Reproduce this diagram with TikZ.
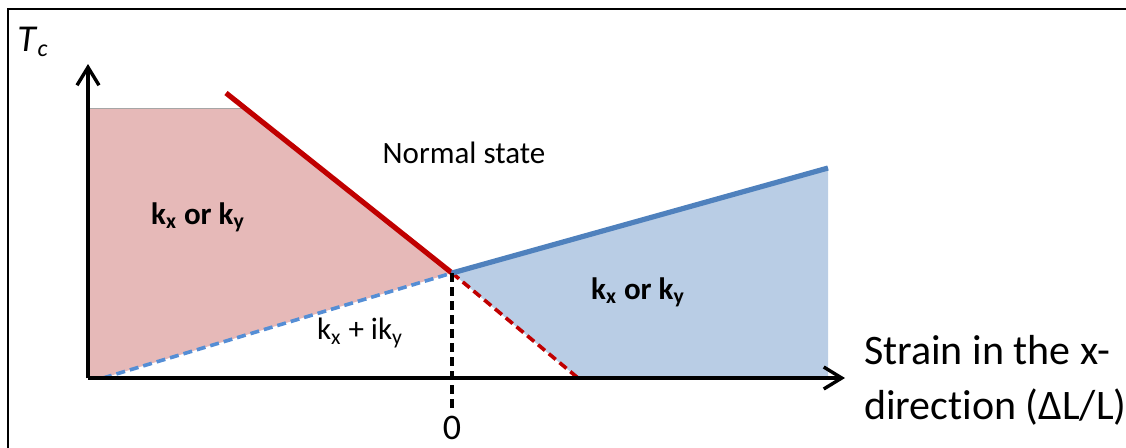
\documentclass[tikz,border=0pt]{standalone}
\usepackage{fontspec}
\setmainfont{Carlito}[Ligatures=NoCommon]
\usetikzlibrary{arrows.meta,positioning,calc}
\definecolor{pinkfill}{RGB}{230,185,184}
\definecolor{redline}{RGB}{192,0,0}
\definecolor{blueline}{RGB}{79,129,189}
\definecolor{bluefill}{RGB}{185,205,229}
\definecolor{bluedash}{RGB}{85,142,213}

\begin{document}
\begin{tikzpicture}[x=0.5pt,y=-0.5pt,>={Straight Barb[length=9pt,width=11pt]},
    phase/.style={font=\fontsize{15.5}{18}\selectfont\bfseries},
    plain/.style={font=\fontsize{15.5}{18}\selectfont},
    solidline/.style={line width=2.6pt},
    dashline/.style={line width=1.8pt,dash pattern=on 4.5pt off 2.5pt}]
    \useasboundingbox (0,0) rectangle (1126,447);
    \clip (0,0) rectangle (1126,447);
    % Frame, cut by the page edge
    \draw[line width=1pt] (8,9) rectangle (1140,470);

    % Key points of the phase diagram
    \coordinate (O) at (88,378);
    \coordinate (crit) at (452,273);
    \coordinate (rtop) at (226,93);
    \coordinate (ptop) at (245,108);
    \coordinate (rend) at (578,378);
    \coordinate (bstart) at (103,378);
    \coordinate (bend) at (828,168);

    % Shaded phases
    \fill[pinkfill] (86,108) -- (ptop) -- (crit) -- (bstart) -- (86,378) -- cycle;
    \draw[gray!70, line width=0.5pt] (86,108) -- (ptop);
    \fill[bluefill] (crit) -- (bend) -- (828,378) -- (rend) -- cycle;

    % Phase boundaries
    \draw[redline, solidline] (rtop) -- (crit);
    \draw[redline, dashline] (crit) -- (rend);
    \draw[blueline, solidline] (crit) -- (bend);
    \draw[bluedash, dashline] (bstart) -- (crit);
    \draw[black, dashline] (crit) -- (452,408);

    % Axes
    \draw[->, line width=1.7pt] (O) -- (88,64);
    \draw[->, line width=1.7pt] (O) -- (845,378);

    % Labels
    \node[font=\fontsize{19}{22}\selectfont] (tc) at (33,42) {\textit{T}\textsubscript{\large\textit{c}}};
    \node[plain] (normal) at (464,153) {Normal state};
    \node[phase] (kleft) at (198,217) {k\textsubscript{x} or k\textsubscript{y}};
    \node[phase] (kright) at (638,292) {k\textsubscript{x} or k\textsubscript{y}};
    \node[plain] (kmix) at (360,333) {k\textsubscript{x} + ik\textsubscript{y}};
    \node[font=\fontsize{18}{20}\selectfont, inner sep=1pt] (zero) at (452,428) {0};
    \node[anchor=west, align=left, font=\fontsize{21}{27.5}\selectfont] (strain) at (857,380)
        {Strain in the x-\\direction (ΔL/L)};
\end{tikzpicture}
\end{document}
